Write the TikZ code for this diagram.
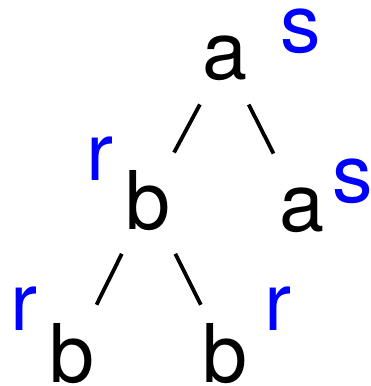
\documentclass[tikz,border=0pt]{standalone}
\usepackage{fontspec}
\setmainfont{TeX Gyre Heros}
\begin{document}
\begin{tikzpicture}[x=1pt,y=-1pt,
  lbl/.style={inner sep=0pt,outer sep=0pt,anchor=base,font=\fontsize{81}{81}\selectfont},
  annot/.style={lbl,text=blue},
  edge/.style={line width=3.8pt}]
\useasboundingbox (0,0) rectangle (370,386);
\node[lbl] (ta) at (225,79) {a};
\node[annot] (ts) at (300.5,52) {s};
\node[lbl] (mb) at (148.5,229) {b};
\node[annot] (mr) at (99.5,180) {r};
\node[lbl] (ma) at (302,231) {a};
\node[annot] (ms) at (352.5,202) {s};
\node[lbl] (lb) at (72.5,382) {b};
\node[annot] (lr) at (23.5,330) {r};
\node[lbl] (rb) at (225,382) {b};
\node[annot] (rr) at (278,330) {r};
\draw[edge,shorten <=53pt,shorten >=54pt] (ta.center) -- (mb.center);
\draw[edge,shorten <=52.5pt,shorten >=63pt] (ta.center) -- (ma.center);
\draw[edge,shorten <=60pt,shorten >=54pt] (mb.center) -- (lb.center);
\draw[edge,shorten <=60pt,shorten >=54pt] (mb.center) -- (rb.center);
\end{tikzpicture}
\end{document}
